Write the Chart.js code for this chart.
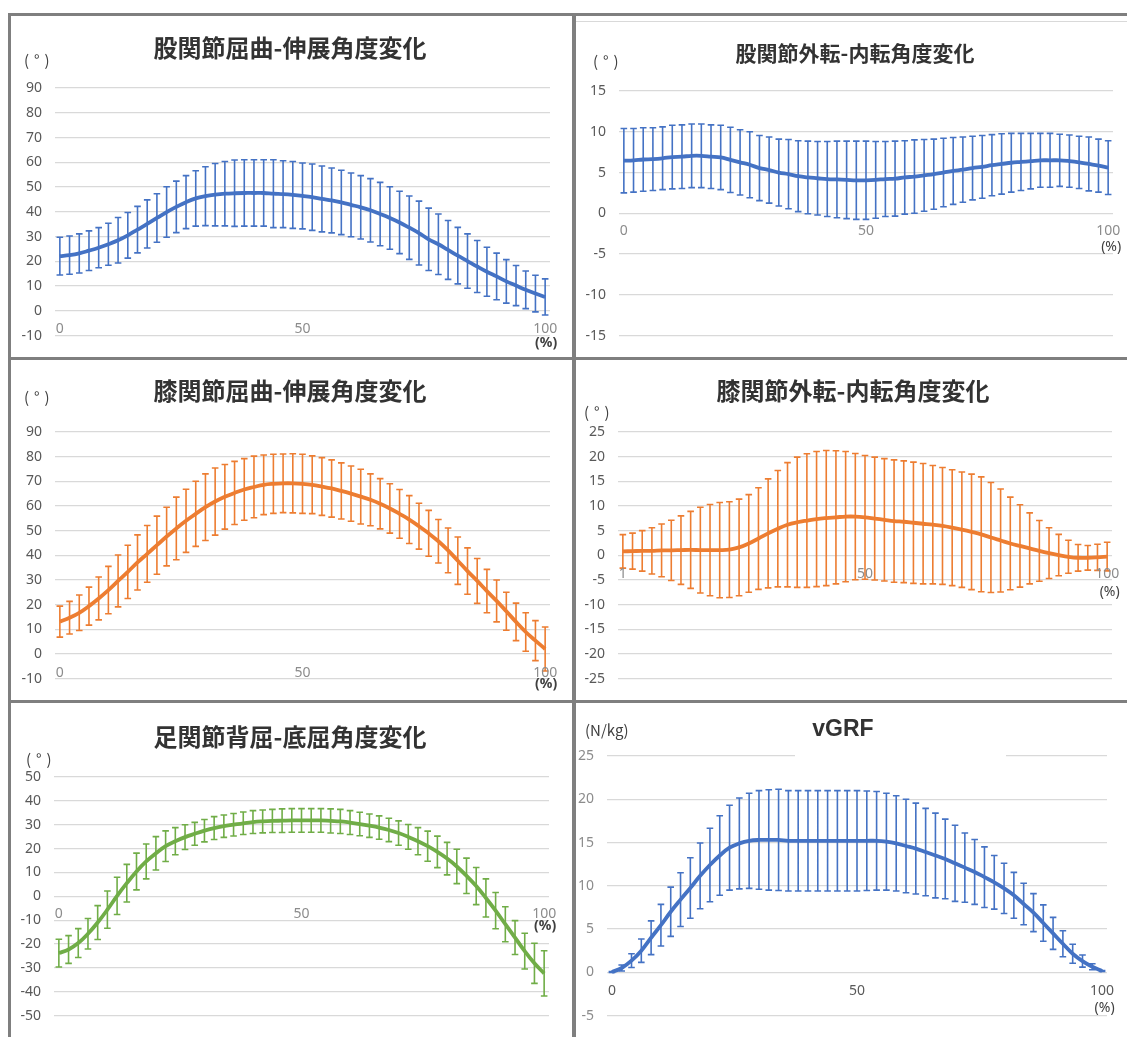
<!DOCTYPE html>
<html><head><meta charset="utf-8">
<script src="https://cdn.jsdelivr.net/npm/chart.js@4"></script>
<style>
html,body{margin:0;padding:0;background:#fff;}
body{width:1127px;height:1037px;position:relative;overflow:hidden;}
.bar{position:absolute;background:#7f7f7f;}
canvas{position:absolute;}
</style></head><body>
<div class="bar" style="left:8px;top:13px;width:1119px;height:3px"></div>
<div class="bar" style="left:8px;top:13px;width:3px;height:1024px"></div>
<div class="bar" style="left:572px;top:13px;width:4px;height:1024px"></div>
<div class="bar" style="left:8px;top:357px;width:1119px;height:3px"></div>
<div class="bar" style="left:8px;top:700px;width:1119px;height:3px"></div>
<div style="position:absolute;left:576px;top:21px;width:551px;height:1px;background:#d9d9d9"></div>
<canvas id="c1" width="561" height="341" style="left:11px;top:16px"></canvas>
<canvas id="c2" width="551" height="341" style="left:576px;top:16px"></canvas>
<canvas id="c3" width="561" height="340" style="left:11px;top:360px"></canvas>
<canvas id="c4" width="551" height="340" style="left:576px;top:360px"></canvas>
<canvas id="c5" width="561" height="334" style="left:11px;top:703px"></canvas>
<canvas id="c6" width="551" height="334" style="left:576px;top:703px"></canvas>
<script>
// ---- data ----
const pct = [0,2,4,6,8,10,12,14,16,18,20,22,24,26,28,30,32,34,36,38,40,42,44,46,48,50,52,54,56,58,60,62,64,66,68,70,72,74,76,78,80,82,84,86,88,90,92,94,96,98,100];

const hipFlexMean = [22.1,22.5,23.2,24.3,25.5,26.9,28.5,30.5,32.8,35.1,37.5,39.9,42.0,43.9,45.4,46.3,46.9,47.3,47.5,47.6,47.6,47.6,47.3,47.1,46.8,46.4,45.9,45.2,44.6,43.8,42.8,41.8,40.6,39.1,37.5,35.7,33.6,31.4,28.9,26.9,24.6,22.3,20.1,17.9,15.8,13.9,11.9,10.2,8.5,7.0,5.6];
const hipFlexSd = [7.6,7.7,7.9,8.0,8.1,8.5,9.2,9.2,9.4,9.7,9.8,10.2,10.4,10.7,11.2,11.9,12.6,13.0,13.4,13.4,13.4,13.4,13.7,13.5,13.5,13.3,13.4,13.3,13.1,13.0,12.9,12.8,12.8,12.8,12.6,12.6,12.8,12.9,12.6,12.2,11.9,11.4,11.0,10.5,9.9,9.4,8.8,8.1,7.6,7.4,7.3];

const hipAbdMean = [6.45,6.5,6.6,6.65,6.75,6.9,6.95,7.05,7.05,6.95,6.85,6.55,6.25,5.95,5.55,5.3,5.0,4.8,4.55,4.4,4.3,4.2,4.15,4.1,4.05,4.05,4.1,4.2,4.25,4.4,4.5,4.65,4.8,5.0,5.2,5.35,5.55,5.7,5.9,6.05,6.2,6.3,6.4,6.5,6.5,6.5,6.4,6.25,6.05,5.85,5.6];
const hipAbdSd = [3.95,3.9,3.9,3.85,3.85,3.9,3.9,3.9,3.9,3.9,3.95,4.0,4.0,4.05,4.0,4.05,4.1,4.25,4.35,4.45,4.5,4.6,4.7,4.75,4.8,4.8,4.7,4.6,4.6,4.5,4.5,4.4,4.3,4.2,4.1,4.0,3.9,3.85,3.75,3.7,3.6,3.5,3.4,3.3,3.3,3.2,3.2,3.2,3.3,3.25,3.3];

const kneeFlexMean = [13.1,14.7,16.7,19.4,22.5,25.9,29.6,33.3,37.1,40.6,44.1,47.6,50.9,54.0,56.8,59.5,61.8,63.7,65.3,66.7,67.7,68.6,69.0,69.2,69.2,69.0,68.6,67.9,67.1,66.1,65.0,63.8,62.5,60.9,59.0,56.8,54.5,51.8,48.9,45.7,42.0,37.8,33.6,29.6,25.5,21.5,17.3,13.0,8.9,5.4,2.0];
const kneeFlexSd = [6.3,6.6,7.2,7.7,8.7,9.6,10.5,10.8,11.2,11.5,11.8,11.9,12.7,12.8,13.2,13.5,13.6,13.1,12.8,12.5,12.5,12.1,12.0,11.9,12.0,12.0,11.7,11.7,11.6,11.4,11.2,11.1,10.5,10.2,10.0,9.9,9.7,9.3,9.3,8.8,9.1,9.6,9.4,9.1,8.8,8.5,7.7,7.6,7.8,8.1,8.9];

const kneeAbdMean = [0.8,0.85,0.9,0.9,1.0,1.0,1.05,1.1,1.05,1.05,1.05,1.15,1.6,2.4,3.4,4.45,5.4,6.2,6.7,7.05,7.35,7.55,7.7,7.85,7.85,7.7,7.45,7.2,6.95,6.8,6.6,6.4,6.2,5.95,5.6,5.2,4.75,4.25,3.6,3.0,2.4,1.9,1.4,0.9,0.45,0.05,-0.3,-0.5,-0.5,-0.4,-0.25];
const kneeAbdSd = [3.4,3.65,4.1,4.7,5.35,6.1,6.95,7.8,8.7,9.25,9.65,9.7,9.8,9.9,10.3,11.05,11.8,12.6,13.2,13.55,13.7,13.7,13.5,13.2,12.8,12.55,12.45,12.4,12.4,12.35,12.3,12.2,12.0,11.85,11.75,11.7,11.7,11.65,11.15,10.45,9.4,8.35,7.2,6.15,5.15,4.2,3.35,2.7,2.5,2.65,2.9];

const ankleMean = [-23.8,-22.3,-19.6,-15.7,-11.0,-5.6,0.2,5.5,10.4,14.6,18.0,21.0,23.1,24.8,26.2,27.5,28.6,29.4,30.0,30.6,31.1,31.4,31.6,31.7,31.8,31.8,31.8,31.8,31.6,31.4,30.9,30.3,29.6,28.8,27.8,26.5,24.9,23.1,21.0,18.6,15.8,12.5,8.6,4.3,-0.7,-6.0,-11.7,-17.3,-23.0,-28.1,-32.3];
const ankleSd = [5.8,5.8,6.05,6.4,7.1,7.8,7.8,7.9,7.7,7.3,7.0,6.4,5.7,5.2,4.8,4.7,4.8,4.7,4.7,4.7,4.8,4.8,4.85,4.95,4.95,4.95,4.95,4.95,5.05,5.05,5.0,4.95,4.9,4.9,4.9,5.1,5.2,5.7,6.3,6.6,6.8,7.2,7.4,7.8,8.0,7.6,7.35,7.1,7.5,8.4,9.5];

const vgrfMean = [0.05,0.5,1.35,2.5,4.0,5.45,7.0,8.4,9.75,11.15,12.4,13.5,14.4,14.9,15.2,15.3,15.3,15.3,15.2,15.2,15.2,15.2,15.2,15.2,15.2,15.2,15.2,15.2,15.1,14.9,14.6,14.3,13.9,13.5,13.1,12.6,12.1,11.6,11.0,10.4,9.7,8.9,7.9,6.9,5.7,4.5,3.3,2.15,1.3,0.65,0.15];
const vgrfSd = [0.05,0.35,0.8,1.35,1.95,2.4,2.85,3.1,3.5,3.8,4.25,4.6,4.9,5.25,5.5,5.7,5.8,5.85,5.8,5.8,5.8,5.8,5.8,5.8,5.8,5.8,5.75,5.7,5.6,5.5,5.4,5.25,5.05,4.9,4.6,4.4,4.0,3.75,3.5,3.1,2.9,2.65,2.4,2.2,2.1,1.85,1.5,1.1,0.7,0.35,0.05];

// tick labels
const yTicksHipFlex = [-10,0,10,20,30,40,50,60,70,80,90];
const yTicksHipAbd = [-15,-10,-5,0,5,10,15];
const yTicksKneeFlex = [-10,0,10,20,30,40,50,60,70,80,90];
const yTicksKneeAbd = [-25,-20,-15,-10,-5,0,5,10,15,20,25];
const yTicksAnkle = [-50,-40,-30,-20,-10,0,10,20,30,40,50];
const yTicksVgrf = [-5,0,5,10,15,20,25];
const xTickAt = [0,50,100];
const xTickText = ['0','50','100'];
const xTickTextKneeAbd = ['1','50','100'];

const titles = ['股関節屈曲-伸展角度変化','股関節外転-内転角度変化','膝関節屈曲-伸展角度変化','膝関節外転-内転角度変化','足関節背屈-底屈角度変化','vGRF'];
const units = ['(°)','(°)','(°)','(°)','(°)','(N/kg)'];

const BLUE = '#4472C4', ORANGE = '#ED7D31', GREEN = '#70AD47';

// ---- plugins ----
const errorBarPlugin = {
  id: 'errorBars',
  beforeDatasetsDraw(chart) {
    const ctx = chart.ctx, xs = chart.scales.x, ys = chart.scales.y;
    chart.data.datasets.forEach(ds => {
      ctx.save();
      ctx.strokeStyle = ds.borderColor;
      ctx.lineWidth = 1.6;
      ctx.beginPath();
      ds.data.forEach((m, i) => {
        const x = xs.getPixelForValue(i);
        const t = ys.getPixelForValue(m + ds.sd[i]);
        const b = ys.getPixelForValue(m - ds.sd[i]);
        ctx.moveTo(x, t); ctx.lineTo(x, b);
        ctx.moveTo(x - 3.3, t); ctx.lineTo(x + 3.3, t);
        ctx.moveTo(x - 3.3, b); ctx.lineTo(x + 3.3, b);
      });
      ctx.stroke();
      ctx.restore();
    });
  }
};

const textPlugin = {
  id: 'panelText',
  beforeDatasetsDraw(chart, args, o) {
    if (o.gap) {
      const ctx = chart.ctx, ys = chart.scales.y;
      const y = ys.getPixelForValue(o.gap.value);
      ctx.save(); ctx.fillStyle = '#fff';
      ctx.fillRect(o.gap.from, y - 3, o.gap.to - o.gap.from, 6);
      ctx.restore();
    }
  },
  afterDraw(chart, args, o) {
    const ctx = chart.ctx, xs = chart.scales.x, ys = chart.scales.y;
    ctx.save();
    ctx.textBaseline = 'middle';
    ctx.font = o.titleFont; ctx.fillStyle = '#333'; ctx.textAlign = 'center';
    ctx.fillText(o.title, o.titleX, o.titleY);
    ctx.font = o.unitFont; ctx.fillStyle = '#404040'; ctx.textAlign = 'left';
    ctx.letterSpacing = o.unitSpacing || '0px';
    ctx.fillText(o.unit, o.unitX, o.unitY);
    ctx.letterSpacing = '0px';
    const y0 = ys.getPixelForValue(0);
    ctx.font = '14px "Noto Sans"'; ctx.fillStyle = o.xColor; ctx.textAlign = 'center';
    o.xTickAt.forEach((v, i) => {
      const idx = chart.data.labels.indexOf(v);
      ctx.fillText(o.xTickText[i], xs.getPixelForValue(idx), y0 + o.xDy);
    });
    ctx.font = o.pctFont; ctx.fillStyle = '#404040';
    const xe = xs.getPixelForValue(chart.data.labels.length - 1);
    ctx.fillText('(%)', xe + o.pctDx, y0 + o.pctDy);
    ctx.restore();
  }
};

function makeChart(id, c) {
  return new Chart(document.getElementById(id), {
    type: 'line',
    data: {
      labels: pct,
      datasets: [{ data: c.mean, sd: c.sd, borderColor: c.color, borderWidth: 3.8,
        pointRadius: 0, tension: 0.4, fill: false }]
    },
    options: {
      responsive: false, animation: false,
      layout: { padding: c.pad },
      plugins: {
        legend: { display: false }, tooltip: { enabled: false }, title: { display: false },
        panelText: c.text
      },
      scales: {
        x: { type: 'category', offset: true, display: false },
        y: {
          min: c.yTicks[0], max: c.yTicks[c.yTicks.length - 1],
          afterBuildTicks: s => { s.ticks = c.yTicks.map(v => ({ value: v })); },
          afterFit: s => { s.width = c.yw; },
          grid: { color: '#d9d9d9', lineWidth: 1.2, drawTicks: false },
          border: { display: false },
          ticks: { padding: 13, color: c.yColor || '#595959', font: { family: 'Noto Sans', size: 14 } }
        }
      }
    },
    plugins: [errorBarPlugin, textPlugin]
  });
}

const TF = 'bold 24px "Noto Sans CJK JP"';
const UF = '15px "Noto Sans CJK JP"';
const PF = 'bold 14px "Noto Sans"';

makeChart('c1', { mean: hipFlexMean, sd: hipFlexSd, color: BLUE, yTicks: yTicksHipFlex, yw: 44,
  pad: { left: 0, top: 72, right: 22, bottom: 17 },
  text: { title: titles[0], titleFont: TF, titleX: 279, titleY: 32, unit: units[0], unitFont: UF, unitSpacing: '5px', unitX: 13, unitY: 44,
    xTickAt: xTickAt, xTickText: xTickText, xColor: '#8c8c8c', xDy: 18, pctFont: PF, pctDx: 1, pctDy: 32 } });

makeChart('c2', { mean: hipAbdMean, sd: hipAbdSd, color: BLUE, yTicks: yTicksHipAbd, yw: 43,
  pad: { left: 0, top: 75, right: 14, bottom: 14 },
  text: { title: titles[1], titleFont: 'bold 21px "Noto Sans CJK JP"', titleX: 279, titleY: 37, unit: units[1], unitFont: UF, unitSpacing: '5px', unitX: 17, unitY: 45,
    xTickAt: xTickAt, xTickText: xTickText, xColor: '#8c8c8c', xDy: 18, pctFont: '14px "Noto Sans"', pctDx: 3, pctDy: 34 } });

makeChart('c3', { mean: kneeFlexMean, sd: kneeFlexSd, color: ORANGE, yTicks: yTicksKneeFlex, yw: 44,
  pad: { left: 0, top: 72, right: 22, bottom: 21 },
  text: { title: titles[2], titleFont: TF, titleX: 279, titleY: 31, unit: units[2], unitFont: UF, unitSpacing: '5px', unitX: 13, unitY: 37,
    xTickAt: xTickAt, xTickText: xTickText, xColor: '#8c8c8c', xDy: 19, pctFont: PF, pctDx: 1, pctDy: 30 } });

makeChart('c4', { mean: kneeAbdMean, sd: kneeAbdSd, color: ORANGE, yTicks: yTicksKneeAbd, yw: 42,
  pad: { left: 0, top: 72, right: 15, bottom: 15 },
  text: { title: titles[3], titleFont: TF, titleX: 277, titleY: 31, unit: units[3], unitFont: UF, unitSpacing: '5px', unitX: 8, unitY: 52,
    xTickAt: xTickAt, xTickText: xTickTextKneeAbd, xColor: '#8c8c8c', xDy: 19, pctFont: '14px "Noto Sans"', pctDx: 2.5, pctDy: 37 } });

makeChart('c5', { mean: ankleMean, sd: ankleSd, color: GREEN, yTicks: yTicksAnkle, yw: 43,
  pad: { left: 0, top: 74, right: 23, bottom: 12 },
  text: { title: titles[4], titleFont: TF, titleX: 279, titleY: 34, unit: units[4], unitFont: UF, unitSpacing: '5px', unitX: 15, unitY: 56,
    xTickAt: xTickAt, xTickText: xTickText, xColor: '#8c8c8c', xDy: 18, pctFont: PF, pctDx: 1, pctDy: 30 } });

makeChart('c6', { mean: vgrfMean, sd: vgrfSd, color: BLUE, yTicks: yTicksVgrf, yw: 31, yColor: '#8c8c8c',
  pad: { left: 0, top: 53, right: 20, bottom: 12 },
  text: { title: titles[5], titleFont: 'bold 23px "Liberation Sans"', titleX: 267, titleY: 27, unit: units[5], unitFont: UF, unitX: 9, unitY: 27,
    xTickAt: xTickAt, xTickText: xTickText, xColor: '#595959', xDy: 19, pctFont: '14px "Noto Sans"', pctDx: 2.5, pctDy: 36,
    gap: { value: 25, from: 219, to: 430 } } });
</script>
</body></html>
